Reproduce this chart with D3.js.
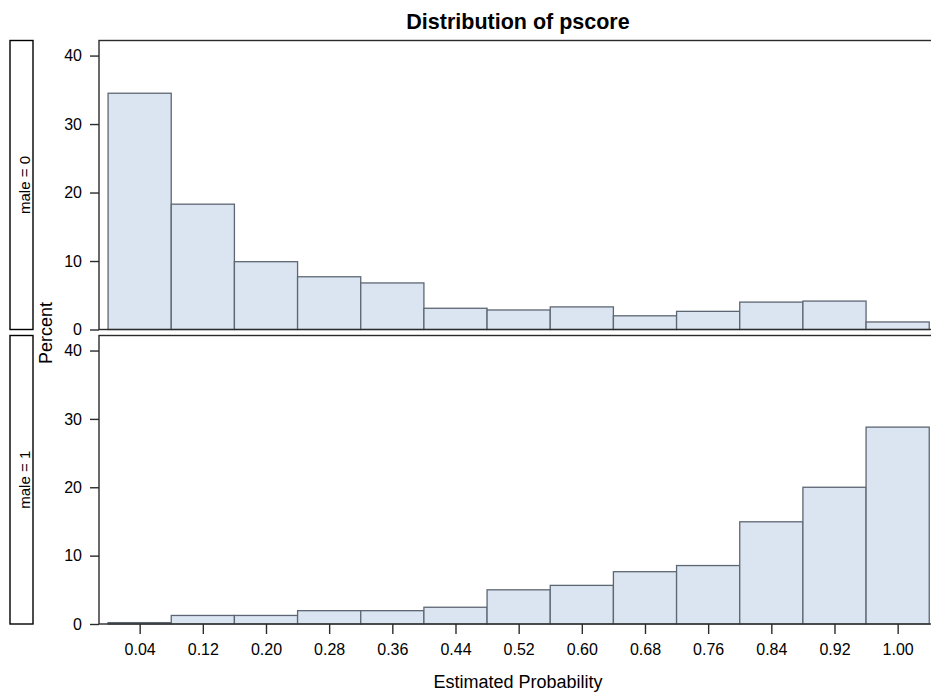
<!DOCTYPE html>
<html>
<head>
<meta charset="utf-8">
<script src="https://cdn.jsdelivr.net/npm/d3@7"></script>
<style>
    body { margin: 0; background: #fff; }
    text { font-family: "Liberation Sans", Arial, sans-serif; fill: #000; }
</style>
</head>
<body>
<svg id="histPanel"></svg>
<script>

// histogram bins (midpoints) and percents per panel
const binMids = [0.04, 0.12, 0.20, 0.28, 0.36, 0.44, 0.52, 0.60, 0.68, 0.76, 0.84, 0.92, 1.00];
const tickLabels = ["0.04", "0.12", "0.20", "0.28", "0.36", "0.44", "0.52", "0.60", "0.68", "0.76", "0.84", "0.92", "1.00"];
const binWidth = 0.08;
const panelNames = ["male = 0", "male = 1"];
const pctMale0 = [34.5, 18.3, 9.9, 7.7, 6.8, 3.1, 2.85, 3.3, 2.0, 2.65, 4.0, 4.15, 1.1];
const pctMale1 = [0.2, 1.25, 1.25, 1.95, 1.95, 2.45, 5.0, 5.65, 7.65, 8.55, 14.95, 20.0, 28.8];
const yTicks = [0, 10, 20, 30, 40];

const config = {
    width: 931,
    height: 692,
    plotLeft: 99,
    plotRight: 932,
    panels: [{ top: 40.5, bottom: 329.5 }, { top: 335.5, bottom: 624 }],
    fill: "#dbe5f1",
    stroke: "#5d6773"
};

const svg = d3.select('#histPanel')
    .attr('width', config.width)
    .attr('height', config.height);

const xScale = d3.scaleLinear()
    .domain([-0.0115, 1.0435])
    .range([config.plotLeft, config.plotRight]);

const series = [pctMale0, pctMale1];

series.forEach((values, i) => {
    const p = config.panels[i];
    const yScale = d3.scaleLinear()
        .domain([0, 42.2])
        .range([p.bottom, p.top]);

    const bins = binMids.map((m, j) => ({ x0: m - binWidth / 2, x1: m + binWidth / 2, pct: values[j] }));

    // bars
    svg.append("g")
        .selectAll("rect")
        .data(bins)
        .join("rect")
        .attr("x", d => xScale(d.x0))
        .attr("y", d => yScale(d.pct))
        .attr("width", d => xScale(d.x1) - xScale(d.x0))
        .attr("height", d => yScale(0) - yScale(d.pct))
        .attr("fill", config.fill)
        .attr("stroke", config.stroke)
        .attr("stroke-width", 1.3);

    // panel frame
    svg.append("rect")
        .attr("x", config.plotLeft)
        .attr("y", p.top)
        .attr("width", config.plotRight - config.plotLeft)
        .attr("height", p.bottom - p.top)
        .attr("fill", "none")
        .attr("stroke", "#2b2b2b")
        .attr("stroke-width", 1.4);

    // y axis
    const yAxis = svg.append("g")
        .attr("transform", `translate(${config.plotLeft},0)`)
        .call(d3.axisLeft(yScale).tickValues(yTicks).tickSize(9).tickPadding(8).tickSizeOuter(0));
    yAxis.select(".domain").remove();
    yAxis.selectAll("line").attr("stroke", "#2b2b2b").attr("stroke-width", 1.4);
    yAxis.selectAll("text").style("font-size", "16px").style("font-family", "Liberation Sans, Arial, sans-serif");

    // strip label box on the left
    svg.append("rect")
        .attr("x", 10)
        .attr("y", p.top)
        .attr("width", 23)
        .attr("height", p.bottom - p.top)
        .attr("fill", "none")
        .attr("stroke", "#000")
        .attr("stroke-width", 1.4);

    svg.append("text")
        .attr("transform", `translate(29.5,${(p.top + p.bottom) / 2}) rotate(-90)`)
        .attr("text-anchor", "middle")
        .style("font-size", "15px")
        .text(panelNames[i]);

    // x axis only on the bottom panel
    if (i === series.length - 1) {
        const xAxis = svg.append("g")
            .attr("transform", `translate(0,${p.bottom})`)
            .call(d3.axisBottom(xScale)
                .tickValues(binMids)
                .tickFormat((d, k) => tickLabels[k])
                .tickSize(10)
                .tickPadding(10)
                .tickSizeOuter(0));
        xAxis.select(".domain").remove();
        xAxis.selectAll("line").attr("stroke", "#2b2b2b").attr("stroke-width", 1.4);
        xAxis.selectAll("text").style("font-size", "16px").style("font-family", "Liberation Sans, Arial, sans-serif");
    }
});

svg.append("text")
    .attr("x", 518)
    .attr("y", 29)
    .attr("text-anchor", "middle")
    .style("font-size", "21.5px")
    .style("font-weight", "bold")
    .text("Distribution of pscore");

svg.append("text")
    .attr("transform", "translate(52,333) rotate(-90)")
    .attr("text-anchor", "middle")
    .style("font-size", "18px")
    .text("Percent");

svg.append("text")
    .attr("x", 518)
    .attr("y", 688)
    .attr("text-anchor", "middle")
    .style("font-size", "18px")
    .text("Estimated Probability");

</script>
</body>
</html>
